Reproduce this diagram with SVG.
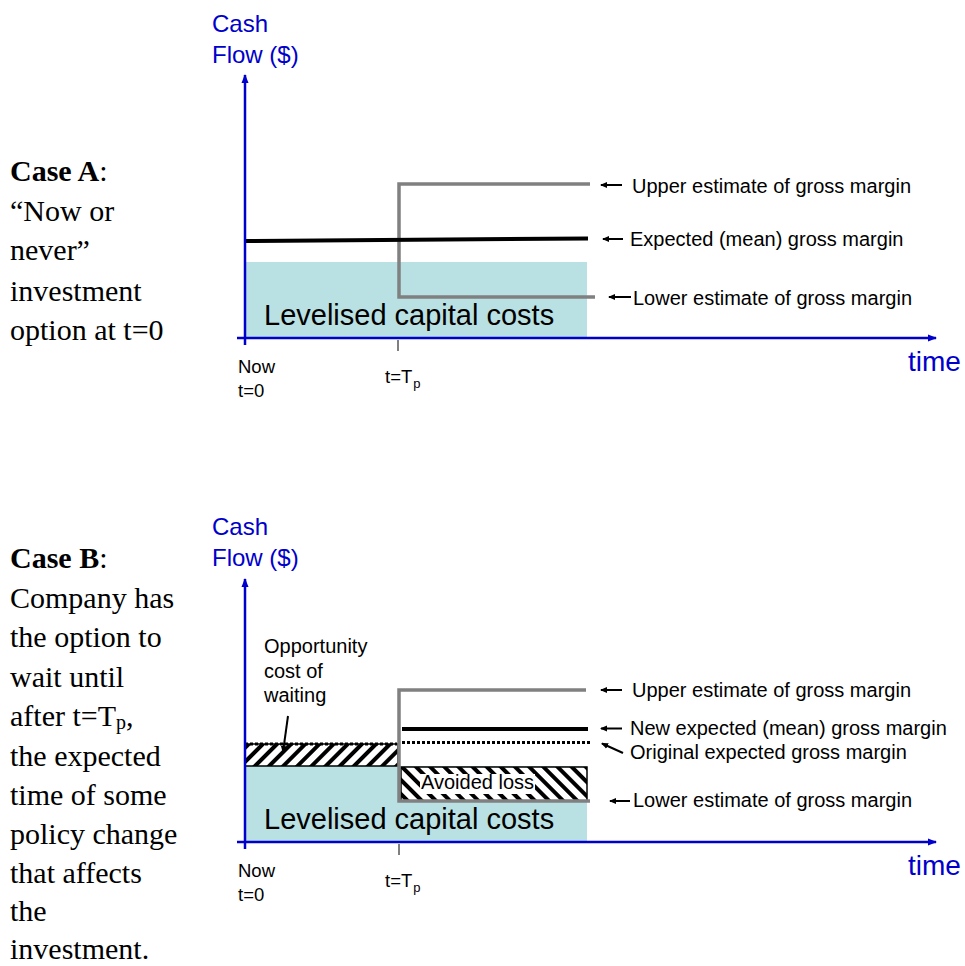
<svg xmlns="http://www.w3.org/2000/svg" width="965" height="966" viewBox="0 0 965 966">
<style>
.serif{font-family:"Liberation Serif","Times New Roman",serif;font-size:30px;fill:#000}
.lbl{font-family:"Liberation Sans",Arial,sans-serif;font-size:20px;fill:#000}
.tick{font-family:"Liberation Sans",Arial,sans-serif;font-size:18.5px;fill:#000}
.axl{font-family:"Liberation Sans",Arial,sans-serif;font-size:24px;fill:#0000cc}
.time{font-family:"Liberation Sans",Arial,sans-serif;font-size:28px;fill:#0000cc}
.big{font-family:"Liberation Sans",Arial,sans-serif;font-size:29px;fill:#000}
.axis{stroke:#0000cc;stroke-width:2.5;fill:none}
.gray{stroke:#808080;stroke-width:3.5;fill:none}
.blk{stroke:#000;stroke-width:4;fill:none}
.arr{stroke:#000;stroke-width:2;fill:none;marker-end:url(#ah)}
.cyan{fill:#b9e0e2}
</style>
<defs>
<marker id="ah" markerWidth="8" markerHeight="8" refX="6" refY="4" orient="auto" markerUnits="userSpaceOnUse"><path d="M0,1 L7,4 L0,7 Z" fill="#000"/></marker>
<marker id="ab" markerWidth="10" markerHeight="10" refX="8" refY="5" orient="auto" markerUnits="userSpaceOnUse"><path d="M0,1.5 L9,5 L0,8.5 Z" fill="#0000cc"/></marker>
<pattern id="hatchF" width="10" height="10" patternUnits="userSpaceOnUse" patternTransform="rotate(45)"><rect width="10" height="10" fill="#fff"/><rect width="4" height="10" fill="#000"/></pattern>
<pattern id="hatchB" width="10" height="10" patternUnits="userSpaceOnUse" patternTransform="rotate(-45)"><rect width="10" height="10" fill="#fff"/><rect width="4" height="10" fill="#000"/></pattern>
</defs>

<!-- Left descriptions -->
<g id="caseA-text">
<text class="serif" x="10" y="181"><tspan font-weight="bold">Case A</tspan>:</text>
<text class="serif" x="10" y="221">“Now or</text>
<text class="serif" x="10" y="260">never”</text>
<text class="serif" x="10" y="301">investment</text>
<text class="serif" x="10" y="340">option at t=0</text>
</g>
<g id="caseB-text">
<text class="serif" x="10" y="568"><tspan font-weight="bold">Case B</tspan>:</text>
<text class="serif" x="10" y="608">Company has</text>
<text class="serif" x="10" y="647">the option to</text>
<text class="serif" x="10" y="687">wait until</text>
<text class="serif" x="10" y="726">after t=T<tspan font-size="20" dy="3">p</tspan><tspan dy="-3">,</tspan></text>
<text class="serif" x="10" y="766">the expected</text>
<text class="serif" x="10" y="805">time of some</text>
<text class="serif" x="10" y="844">policy change</text>
<text class="serif" x="10" y="883">that affects</text>
<text class="serif" x="10" y="921">the</text>
<text class="serif" x="10" y="959">investment.</text>
</g>

<!-- Case A chart -->
<g id="chartA">
<rect id="capA" class="cyan" x="245" y="262" width="342" height="76"/>
<text class="big" x="264" y="325">Levelised capital costs</text>
<path class="gray" d="M590,184 H399 V297 H595"/>
<path class="blk" d="M245,241 L588,238.5"/>
</g>
<g id="axesA">
<text class="axl" x="212" y="32">Cash</text>
<text class="axl" x="212" y="63">Flow ($)</text>
<line class="axis" x1="245" y1="345" x2="245" y2="75" marker-end="url(#ab)"/>
<line class="axis" x1="237" y1="338" x2="936" y2="338" marker-end="url(#ab)"/>
<line x1="398" y1="340" x2="398" y2="351" stroke="#000" stroke-width="1"/>
<text class="time" x="908" y="371">time</text>
<text class="tick" x="238" y="373">Now</text>
<text class="tick" x="238" y="397">t=0</text>
<text class="tick" x="385" y="383">t=T<tspan font-size="13" dy="5" dx="1">p</tspan></text>
</g>
<g id="labelsA">
<line class="arr" x1="622" y1="185" x2="601" y2="185"/>
<text class="lbl" x="632" y="193">Upper estimate of gross margin</text>
<line class="arr" x1="623" y1="239" x2="603" y2="239"/>
<text class="lbl" x="630" y="246">Expected (mean) gross margin</text>
<line class="arr" x1="631" y1="297" x2="609" y2="297"/>
<text class="lbl" x="633" y="305">Lower estimate of gross margin</text>
</g>

<!-- Case B chart -->
<g id="chartB">
<rect id="capB" class="cyan" x="245" y="766" width="342" height="76"/>
<text class="big" x="264" y="829">Levelised capital costs</text>
<rect id="oppCost" x="245" y="744" width="153" height="22" fill="url(#hatchF)" stroke="#000" stroke-width="1.5"/>
<rect id="avoided" x="401" y="767" width="186" height="34" fill="url(#hatchB)" stroke="#000" stroke-width="1.5"/>
<rect x="420" y="774" width="115" height="20" fill="#fff"/>
<text class="lbl" x="421" y="789">Avoided loss</text>
<line x1="245" y1="744" x2="397" y2="744" stroke="#000" stroke-width="3" stroke-dasharray="3,2"/>
<line x1="402" y1="742.5" x2="592" y2="742.5" stroke="#000" stroke-width="3" stroke-dasharray="3,2"/>
<path class="gray" d="M586,690 H399 V801 H590"/>
<path class="blk" d="M402,729 H588"/>
</g>
<g id="axesB">
<text class="axl" x="212" y="535">Cash</text>
<text class="axl" x="212" y="566">Flow ($)</text>
<line class="axis" x1="245" y1="849" x2="245" y2="579" marker-end="url(#ab)"/>
<line class="axis" x1="237" y1="842" x2="936" y2="842" marker-end="url(#ab)"/>
<line x1="399" y1="844" x2="399" y2="855" stroke="#000" stroke-width="1"/>
<text class="time" x="908" y="875">time</text>
<text class="tick" x="238" y="877">Now</text>
<text class="tick" x="238" y="901">t=0</text>
<text class="tick" x="385" y="887">t=T<tspan font-size="13" dy="5" dx="1">p</tspan></text>
</g>
<g id="labelsB">
<text class="lbl" x="264" y="653">Opportunity</text>
<text class="lbl" x="264" y="678">cost of</text>
<text class="lbl" x="264" y="702">waiting</text>
<line class="arr" x1="288" y1="716" x2="283" y2="752"/>
<line class="arr" x1="622" y1="690" x2="601" y2="690"/>
<text class="lbl" x="632" y="697">Upper estimate of gross margin</text>
<line class="arr" x1="622" y1="728.5" x2="601" y2="728.5"/>
<text class="lbl" x="630" y="735">New expected (mean) gross margin</text>
<line class="arr" x1="623" y1="753" x2="602" y2="743.5"/>
<text class="lbl" x="630" y="759">Original expected gross margin</text>
<line class="arr" x1="630" y1="801" x2="610" y2="801"/>
<text class="lbl" x="633" y="807">Lower estimate of gross margin</text>
</g>
</svg>
